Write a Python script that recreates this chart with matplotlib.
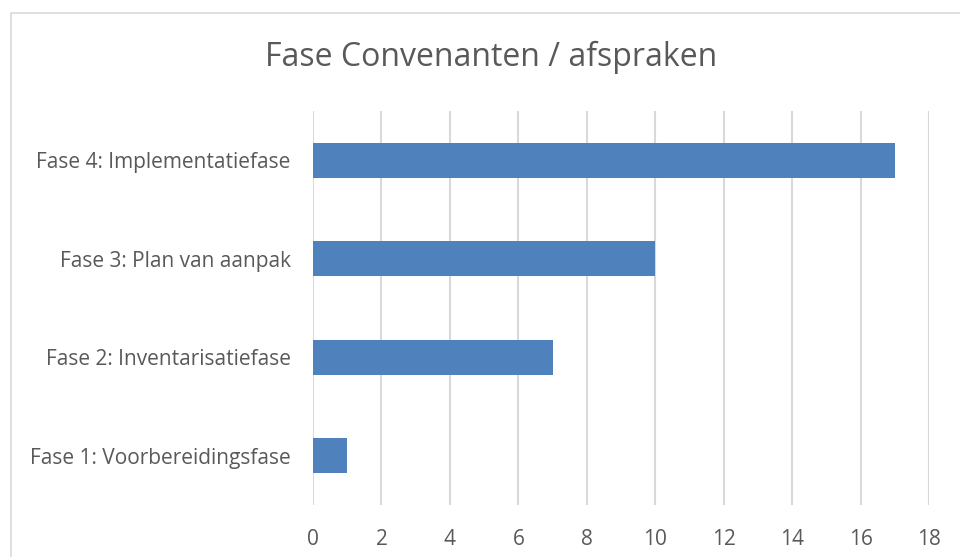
import matplotlib
matplotlib.use("Agg")
import matplotlib.pyplot as plt
from matplotlib.patches import Rectangle

# data
fasen = ["Fase 1: Voorbereidingsfase", "Fase 2: Inventarisatiefase",
         "Fase 3: Plan van aanpak", "Fase 4: Implementatiefase"]
aantal = [1, 7, 10, 17]
xticks = [0, 2, 4, 6, 8, 10, 12, 14, 16, 18]

plt.rcParams['font.family'] = ['Open Sans', 'DejaVu Sans']
txt = '#595959'
grid = '#D9D9D9'

fig = plt.figure(figsize=(9.6, 5.57), dpi=100)
# chart frame (cut off at right/bottom like the reference)
fig.patches.append(Rectangle((11 / 960, -0.1), 1.2, 1 - 12.5 / 557 + 0.1,
                             transform=fig.transFigure, fill=False,
                             edgecolor=grid, lw=1.2))

ax = fig.add_axes([313 / 960, 1 - 505 / 557, (929 - 313) / 960, (505 - 111) / 557])
ax.barh(range(len(fasen)), aantal, height=0.355, color='#4F81BD', zorder=3)
ax.set_ylim(-0.5, len(fasen) - 0.5)
ax.set_xlim(0, 18)
ax.set_xticks(xticks)
ax.set_yticks(range(len(fasen)))
ax.set_yticklabels(fasen)
ax.xaxis.grid(True, color=grid, lw=1.5, zorder=0)
ax.tick_params(axis='both', length=0, labelsize=15, colors=txt)
ax.tick_params(axis='x', pad=17.5)
ax.tick_params(axis='y', pad=16)
for s in ax.spines.values():
    s.set_visible(False)

fig.text(491 / 960, 1 - 57 / 557, "Fase Convenanten / afspraken",
         ha='center', va='center', fontsize=23, color=txt)

fig.savefig("out.png", dpi=100)
